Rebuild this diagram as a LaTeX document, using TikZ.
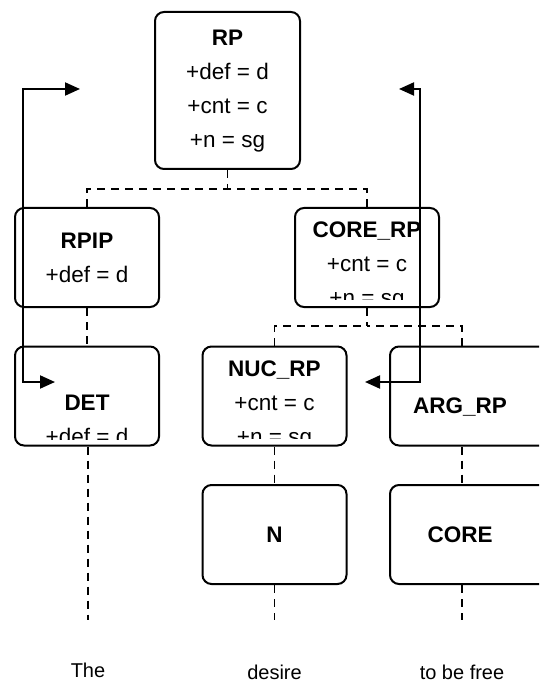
\documentclass[tikz,border=0pt]{standalone}
\usepackage{fontspec}
\setmainfont{Liberation Sans}
\usetikzlibrary{arrows.meta}
\tikzset{
  box/.style={draw, line width=2pt, rounded corners=9pt, fill=white,
    minimum width=144pt, minimum height=99pt, inner sep=0pt},
  lbl/.style={align=center, inner sep=0pt, font=\fontsize{22.5}{34}\selectfont},
  word/.style={inner sep=0pt, font=\fontsize{20}{24}\selectfont},
  dline/.style={dash pattern=on 8pt off 6pt, line width=1.8pt},
  arr/.style={line width=2pt, {Triangle[length=15pt,width=13pt]}-{Triangle[length=15pt,width=13pt]}},
}
\begin{document}
\begin{tikzpicture}[x=1pt,y=-1pt]
\clip (0,0) rectangle (539,684);
\fill[white] (0,0) rectangle (539,684);

% boxes
\node[box, minimum width=145pt, minimum height=157pt] (rp) at (227.5,90.5) {};
\node[box] (rpip) at (87,257.5) {};
\node[box] (corerp) at (367,257.5) {};
\node[box] (det) at (87,396) {};
\node[box] (nuc) at (274.5,396) {};
\node[box, minimum width=170pt] (arg) at (475,396) {};
\node[box] (n) at (274.5,534.5) {};
\node[box, minimum width=170pt] (core) at (475,534.5) {};

% texts (clipped inside boxes)
\node[lbl] (rpt) at (227.5,91) {\textbf{RP}\\+def = d\\+cnt = c\\+n = sg};
\node[lbl] (rpipt) at (87,258) {\textbf{RPIP}\\+def = d};
\begin{scope}
  \clip (corerp.north west) rectangle ([yshift=9pt]corerp.south east);
  \node[lbl] (corerpt) at (367,265.5) {\textbf{CORE\_RP}\\+cnt = c\\+n = sg};
\end{scope}
\begin{scope}
  \clip (det.north west) rectangle ([yshift=7pt]det.south east);
  \node[lbl] (dett) at (87,420) {\textbf{DET}\\+def = d};
\end{scope}
\begin{scope}
  \clip (nuc.north west) rectangle ([yshift=8pt]nuc.south east);
  \node[lbl] (nuct) at (274.5,404.5) {\textbf{NUC\_RP}\\+cnt = c\\+n = sg};
\end{scope}
\node[lbl] (argt) at (460,407) {\textbf{ARG\_RP}};
\node[lbl] (nt) at (274.5,535) {\textbf{N}};
\node[lbl] (coret) at (460,535) {\textbf{CORE}};

% words
\node[word] (w1) at (88,670) {The};
\node[word] (w2) at (274.5,672) {desire};
\node[word] (w3) at (462,672) {to be free};

% junctions and free ends
\coordinate (j1) at (227.5,189);
\coordinate (j2) at (367,326);
\coordinate (e1) at (88,620);
\coordinate (e2) at (274.5,620);
\coordinate (e3) at (462,620);

% dashed tree lines
\draw[dline] (rp.south) -- (j1);
\draw[dline] (rpip.north) |- (j1);
\draw[dline] (corerp.north) |- (j1);
\draw[dline] (rpip.south) -- (det.north);
\draw[dline] (corerp.south) -- (j2);
\draw[dline] (nuc.north) |- (j2);
\draw[dline] (arg.north -| e3) |- (j2);
\draw[dline] (nuc.south) -- (n.north);
\draw[dline] (arg.south -| e3) -- (core.north -| e3);
\draw[dline] (det.south -| e1) -- (e1);
\draw[dline] (n.south) -- (e2);
\draw[dline] (core.south -| e3) -- (e3);

% arrows
\coordinate (la) at (55,382);
\coordinate (lb) at (80,89);
\coordinate (ra) at (365,382);
\coordinate (rb) at (399,89);
\draw[arr] (la) -- (23,382) -- (23,89) -- (lb);
\draw[arr] (ra) -- (420,382) -- (420,89) -- (rb);
\end{tikzpicture}
\end{document}
